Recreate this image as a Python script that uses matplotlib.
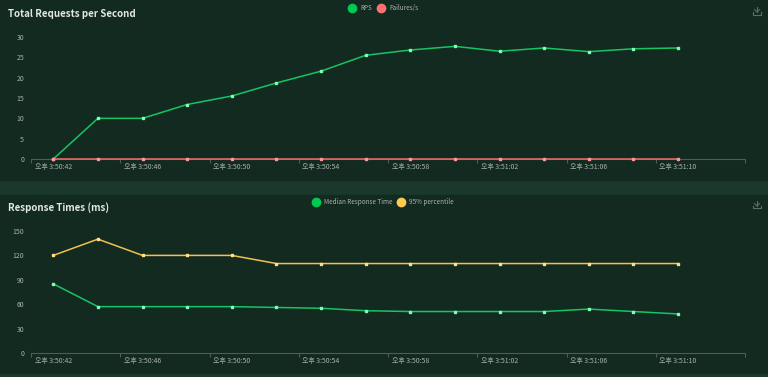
import matplotlib.pyplot as plt
from matplotlib.patches import Rectangle
from matplotlib.lines import Line2D

plt.rcParams['font.family'] = ['Noto Sans CJK KR', 'DejaVu Sans']

# time categories (last one has no data yet)
times = ["3:50:42", "3:50:44", "3:50:46", "3:50:48", "3:50:50", "3:50:52",
         "3:50:54", "3:50:56", "3:50:58", "3:51:00", "3:51:02", "3:51:04",
         "3:51:06", "3:51:08", "3:51:10", "3:51:12"]
rps = [0, 10, 10, 13.4, 15.5, 18.7, 21.6, 25.5, 26.8, 27.7, 26.5, 27.3, 26.4, 27.1, 27.3]
failures = [0, 0, 0, 0, 0, 0, 0, 0, 0, 0, 0, 0, 0, 0, 0]
median_rt = [85, 57, 57, 57, 57, 56, 55, 52, 51, 51, 51, 51, 54, 51, 48]
p95_rt = [120, 140, 120, 120, 120, 110, 110, 110, 110, 110, 110, 110, 110, 110, 110]

W, H = 768, 377
panel = "#132a21"
band = "#1a382b"
text_c = "#e2e6e4"
tick_c = "#a9b3ae"
axis_c = "#4c5f56"

fig = plt.figure(figsize=(W / 100, H / 100), dpi=100)
fig.patch.set_facecolor(band)

# panel backgrounds (pixel coords from top)
for top, bot in [(0, 180), (195, 373)]:
    fig.patches.append(Rectangle((0, 1 - bot / H), 1, (bot - top) / H,
                                 transform=fig.transFigure, color=panel, zorder=-5))


def make_axes(top_px, bot_px):
    ax = fig.add_axes([31 / W, 1 - bot_px / H, (745 - 31) / W, (bot_px - top_px) / H])
    ax.set_facecolor("none")
    for s in ["top", "right", "left"]:
        ax.spines[s].set_visible(False)
    ax.spines["bottom"].set_color(axis_c)
    ax.spines["bottom"].set_linewidth(0.8)
    ax.set_xlim(-0.5, len(times) - 0.5)
    ax.set_xticks([i - 0.5 for i in range(0, len(times) + 1, 2)])
    ax.set_xticklabels([])
    ax.set_xticks(range(0, len(times), 2), minor=True)
    ax.set_xticklabels(["오후 " + t for t in times[::2]], minor=True)
    ax.tick_params(axis="x", which="major", length=3, color=axis_c, width=0.8)
    ax.tick_params(axis="x", which="minor", length=0, pad=3, labelsize=5, labelcolor=tick_c)
    ax.tick_params(axis="y", length=0, labelsize=5, labelcolor=tick_c, pad=5)
    return ax


def series(ax, y, color, mcolor):
    ax.plot(range(len(y)), y, color=color, lw=1.1, marker="s", ms=2,
            mfc=mcolor, mec=mcolor, zorder=3, clip_on=False)


# top chart
ax1 = make_axes(37, 159)
ax1.set_ylim(0, 30)
ax1.set_yticks([0, 5, 10, 15, 20, 25, 30])
series(ax1, rps, "#17c464", "#7dffb0")
series(ax1, failures, "#f06c6c", "#ff9a9a")

# bottom chart
ax2 = make_axes(231, 353)
ax2.set_ylim(0, 150)
ax2.set_yticks([0, 30, 60, 90, 120, 150])
series(ax2, median_rt, "#17c464", "#7dffb0")
series(ax2, p95_rt, "#f2c14e", "#ffe08a")

# titles
fig.text(8 / W, 1 - 14 / H, "Total Requests per Second", color=text_c,
         fontsize=7, fontweight="bold", va="center", ha="left")
fig.text(8 / W, 1 - 208 / H, "Response Times (ms)", color=text_c,
         fontsize=7, fontweight="bold", va="center", ha="left")

# legends
def legend(y_px, items):
    for x_px, label, color in items:
        fig.lines.append(Line2D([x_px / W], [1 - y_px / H], transform=fig.transFigure,
                                marker="o", ms=6, color=color, lw=0))
        fig.text((x_px + 8) / W, 1 - y_px / H, label, color=tick_c, fontsize=4.6,
                 va="center", ha="left")

legend(8, [(352, "RPS", "#00c853"), (381, "Failures/s", "#ff6f6f")])
legend(202, [(316, "Median Response Time", "#00c853"), (401, "95% percentile", "#ffc94f")])

# download icons
for y0 in [11, 205]:
    yc = 1 - y0 / H
    ic = "#5c6e66"
    fig.lines.append(Line2D([757 / W, 757 / W], [yc + 4 / H, yc - 1 / H], transform=fig.transFigure, color=ic, lw=0.8))
    fig.lines.append(Line2D([754.5 / W, 757 / W, 759.5 / W], [yc + 1.5 / H, yc - 1 / H, yc + 1.5 / H], transform=fig.transFigure, color=ic, lw=0.8))
    fig.lines.append(Line2D([753 / W, 753 / W, 761 / W, 761 / W], [yc - 1 / H, yc - 3.5 / H, yc - 3.5 / H, yc - 1 / H], transform=fig.transFigure, color=ic, lw=0.8))

fig.savefig("out.png", dpi=100, facecolor=fig.get_facecolor())
